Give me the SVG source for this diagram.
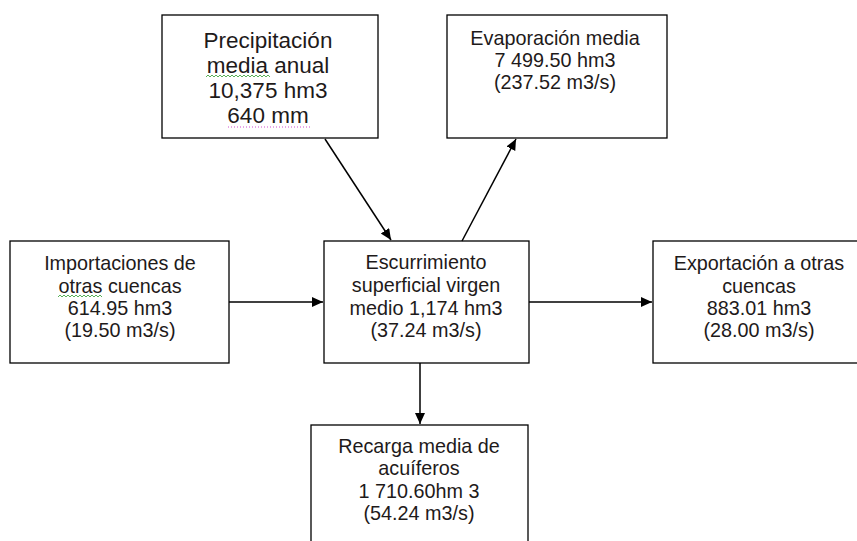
<svg xmlns="http://www.w3.org/2000/svg" width="857" height="541" viewBox="0 0 857 541">
<style>
.box{fill:#fff;stroke:#000;stroke-width:1.3}
.t{font-family:"Liberation Sans",Arial,sans-serif;font-size:19.8px;fill:#1e1a1a;text-anchor:middle}
.big{font-size:22.5px}
.edge{stroke:#000;stroke-width:1.5;fill:none}
.wavy{fill:none;stroke:#2c9c2c;stroke-width:0.8}
</style>
<defs>
<marker id="ah" markerWidth="12" markerHeight="12" refX="11" refY="5" orient="auto" markerUnits="userSpaceOnUse">
<path d="M0,0 L11,5 L0,10 z" fill="#000"/>
</marker>
</defs>
<rect width="857" height="541" fill="#fff"/>
<g id="precipitacion">
<rect class="box" x="162" y="15" width="216" height="123"/>
<text class="t big" x="268" y="48">Precipitación</text>
<text class="t big" x="268" y="73">media anual</text>
<text class="t big" x="268" y="98">10,375 hm3</text>
<text class="t big" x="268" y="123">640 mm</text>
<path class="wavy" d="M206,77 l2,-2 l2,2 l2,-2 l2,2 l2,-2 l2,2 l2,-2 l2,2 l2,-2 l2,2 l2,-2 l2,2 l2,-2 l2,2 l2,-2 l2,2 l2,-2 l2,2 l2,-2 l2,2 l2,-2 l2,2 l2,-2 l2,2 l2,-2 l2,2 l2,-2 l2,2 l2,-2 l2,2 l2,-2 l2,2"/>
<line x1="228" y1="127" x2="310" y2="127" stroke="#d04cd0" stroke-width="1" stroke-dasharray="1,2"/>
</g>
<g id="evaporacion">
<rect class="box" x="447" y="15" width="220" height="123"/>
<text class="t" x="555" y="45">Evaporación media</text>
<text class="t" x="555" y="67">7 499.50 hm3</text>
<text class="t" x="555" y="89">(237.52 m3/s)</text>
</g>
<g id="importaciones">
<rect class="box" x="10" y="241" width="219" height="122"/>
<text class="t" x="120" y="270">Importaciones de</text>
<text class="t" x="120" y="293">otras cuencas</text>
<text class="t" x="120" y="315">614.95 hm3</text>
<text class="t" x="120" y="337">(19.50 m3/s)</text>
<path class="wavy" d="M58,297 l2,-2 l2,2 l2,-2 l2,2 l2,-2 l2,2 l2,-2 l2,2 l2,-2 l2,2 l2,-2 l2,2 l2,-2 l2,2 l2,-2 l2,2 l2,-2 l2,2 l2,-2 l2,2 l2,-2 l2,2"/>
</g>
<g id="escurrimiento">
<rect class="box" x="324" y="241" width="205" height="122"/>
<text class="t" x="426" y="269">Escurrimiento</text>
<text class="t" x="426" y="292">superficial virgen</text>
<text class="t" x="426" y="315">medio 1,174 hm3</text>
<text class="t" x="426" y="337">(37.24 m3/s)</text>
</g>
<g id="exportacion">
<rect class="box" x="653" y="241" width="230" height="122"/>
<text class="t" x="759" y="270">Exportación a otras</text>
<text class="t" x="759" y="293">cuencas</text>
<text class="t" x="759" y="315">883.01 hm3</text>
<text class="t" x="759" y="337">(28.00 m3/s)</text>
</g>
<g id="recarga">
<rect class="box" x="311" y="425" width="217" height="130"/>
<text class="t" x="419" y="453">Recarga media de</text>
<text class="t" x="419" y="475">acuíferos</text>
<text class="t" x="419" y="498">1 710.60hm 3</text>
<text class="t" x="419" y="520">(54.24 m3/s)</text>
</g>
<g id="connectors">
<line class="edge" x1="325" y1="139" x2="391" y2="240" marker-end="url(#ah)"/>
<line class="edge" x1="462" y1="241" x2="516" y2="139" marker-end="url(#ah)"/>
<line class="edge" x1="229" y1="302" x2="323" y2="302" marker-end="url(#ah)"/>
<line class="edge" x1="529" y1="302" x2="652" y2="302" marker-end="url(#ah)"/>
<line class="edge" x1="420" y1="363" x2="420" y2="424" marker-end="url(#ah)"/>
</g>
</svg>
